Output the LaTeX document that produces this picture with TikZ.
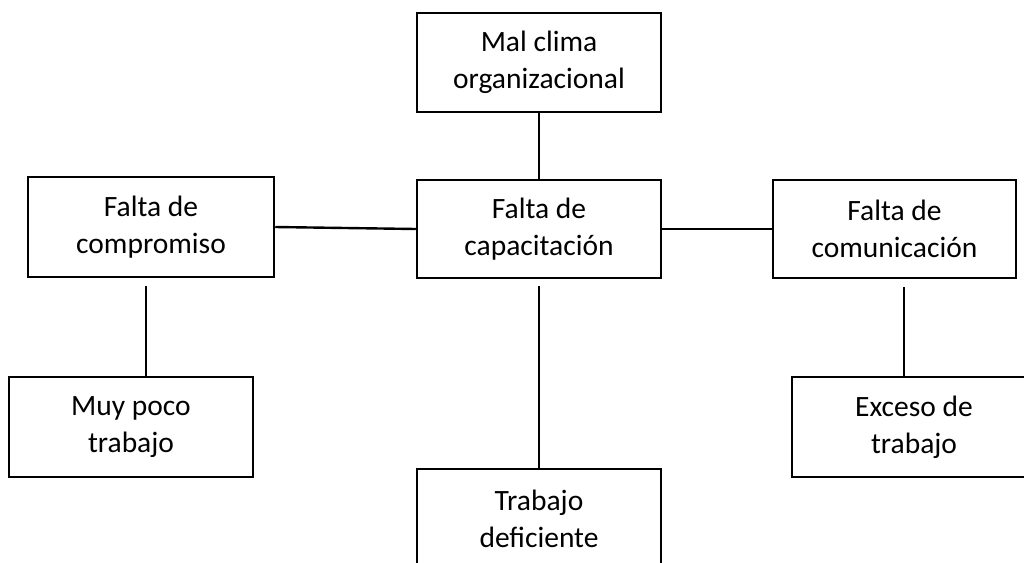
\documentclass[tikz,border=0pt]{standalone}
\usepackage{fontspec}
\setmainfont{Carlito}
\begin{document}
\begin{tikzpicture}[x=1pt,y=-1pt,
  box/.style={draw=black,line width=2.5pt,fill=white,inner sep=0pt,minimum width=244pt,minimum height=99pt,align=center,font=\fontsize{29.5}{37}\selectfont},
  conn/.style={draw=black,line width=2.4pt}]
\useasboundingbox (0,0) rectangle (1024,562);
\clip (0,0) rectangle (1024,562);
\node[box] (top) at (539,62.5) {Mal clima\\organizacional};
\node[box,minimum height=98pt] (center) at (539,229) {Falta de\\capacitación};
\node[box,minimum width=246pt,minimum height=100pt] (left) at (151,227) {Falta de\\compromiso};
\node[box,minimum width=243pt,minimum height=98pt] (right) at (894.5,229) {Falta de\\comunicación};
\node[box,minimum height=100pt] (bl) at (131,427) {Muy poco\\trabajo};
\node[box,minimum height=100pt] (br) at (914,427) {Exceso de\\trabajo};
\node[box,minimum height=100pt] (bottom) at (539,519) {Trabajo\\deficiente};
\draw[conn] (top.south) -- (center.north);
\draw[conn] (left.east) -- (center.west);
\draw[conn] (center.east) -- (right.west);
\draw[conn] ([yshift=-7pt]center.south) -- (bottom.north);
\draw[conn] ([xshift=-5pt,yshift=-8pt]left.south) coordinate (la) -- (la |- bl.north);
\draw[conn] ([xshift=9.5pt,yshift=-8pt]right.south) coordinate (ra) -- (ra |- br.north);
\end{tikzpicture}
\end{document}
